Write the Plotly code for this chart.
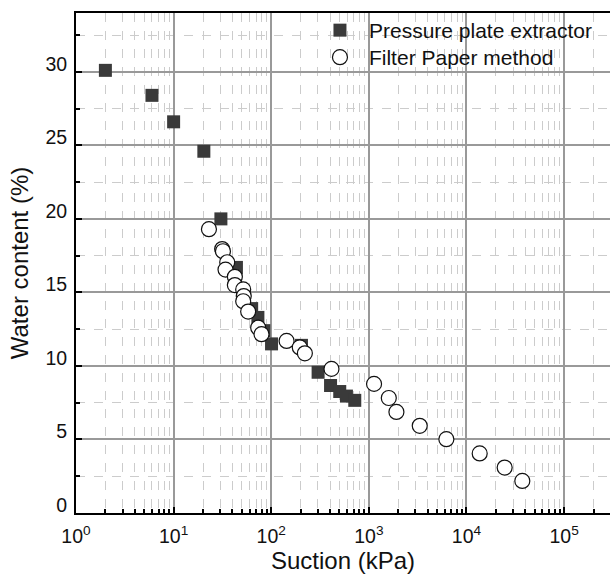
import plotly.graph_objects as go

# Pressure plate extractor (suction kPa, water content %)
pp_suction = [2, 6, 10, 20.4, 30.5, 44, 63, 73, 84, 100.7, 204, 302, 405, 503, 589, 717]
pp_water = [30.1, 28.4, 26.6, 24.6, 20.0, 16.7, 13.9, 13.3, 12.4, 11.5, 11.4, 9.57, 8.67, 8.26, 7.95, 7.66]

# Filter paper method
fp_suction = [23, 31.4, 32, 35.4, 34, 42.4, 42.4, 51.6, 52.3, 51.6, 58, 73.5, 79.5,
              143.6, 196, 221, 414, 1130, 1600, 1915, 3320, 6220, 13650, 24600, 37300]
fp_water = [19.3, 17.95, 17.8, 17.05, 16.55, 16.06, 15.5, 15.2, 14.75, 14.4, 13.7, 12.6, 12.16,
            11.7, 11.26, 10.86, 9.8, 8.78, 7.82, 6.87, 5.93, 5.02, 4.05, 3.09, 2.18]

x_tickvals = [1, 10, 100, 1000, 10000, 100000]
x_ticktext = ["10<sup>0</sup>", "10<sup>1</sup>", "10<sup>2</sup>", "10<sup>3</sup>",
              "10<sup>4</sup>", "10<sup>5</sup>"]
y_tickvals = [0, 5, 10, 15, 20, 25, 30]

FONT = "Liberation Sans, Arial, sans-serif"

fig = go.Figure()
fig.add_trace(go.Scatter(
    x=pp_suction, y=pp_water, mode="markers", name="Pressure plate extractor",
    legend="legend",
    marker=dict(symbol="square", size=13, color="#3a3a3a", line=dict(width=0))))
fig.add_trace(go.Scatter(
    x=fp_suction, y=fp_water, mode="markers", name="Filter Paper method",
    legend="legend2",
    marker=dict(symbol="circle", size=15, color="white", line=dict(width=1.2, color="#111"))))

leg_common = dict(xanchor="left", yanchor="top", bgcolor="rgba(0,0,0,0)",
                  font=dict(size=21, family=FONT), itemwidth=48)

fig.update_layout(
    width=610, height=578,
    margin=dict(l=76, r=0, t=13, b=65, autoexpand=False),
    paper_bgcolor="white", plot_bgcolor="white",
    font=dict(family=FONT, size=19.5, color="#111"),
    showlegend=True,
    legend=dict(x=0.44, y=1.006, **leg_common),
    legend2=dict(x=0.44, y=0.952, **leg_common),
)
fig.update_xaxes(
    type="log", range=[0, 5.47],
    tickvals=x_tickvals, ticktext=x_ticktext,
    ticks="inside", ticklen=6, tickwidth=1.5, tickcolor="black",
    showline=True, linecolor="black", linewidth=2, mirror=True,
    showgrid=True, gridcolor="#999999", gridwidth=1.5,
    zeroline=False, automargin=False, ticklabelstandoff=5,
    minor=dict(dtick="D1", ticks="inside", ticklen=4, tickcolor="black",
               showgrid=True, gridcolor="#cccccc", griddash="dash", gridwidth=1),
    title=dict(text="Suction (kPa)", font=dict(size=24, family=FONT), standoff=6),
    tickfont=dict(size=19.5, family=FONT),
)
fig.update_yaxes(
    range=[0, 34],
    tickvals=y_tickvals,
    ticks="inside", ticklen=6, tickwidth=1.5, tickcolor="black",
    showline=True, linecolor="black", linewidth=2, mirror=False,
    showgrid=True, gridcolor="#999999", gridwidth=1.5,
    zeroline=False, automargin=False, ticklabelshift=-8, ticklabelstandoff=3,
    minor=dict(dtick=2.5, tick0=0, ticks="inside", ticklen=4, tickcolor="black",
               showgrid=True, gridcolor="#cccccc", griddash="dash", gridwidth=1),
    title=dict(text="Water content (%)", font=dict(size=24, family=FONT), standoff=10),
    tickfont=dict(size=19.5, family=FONT),
)

fig.write_html("out.html")
